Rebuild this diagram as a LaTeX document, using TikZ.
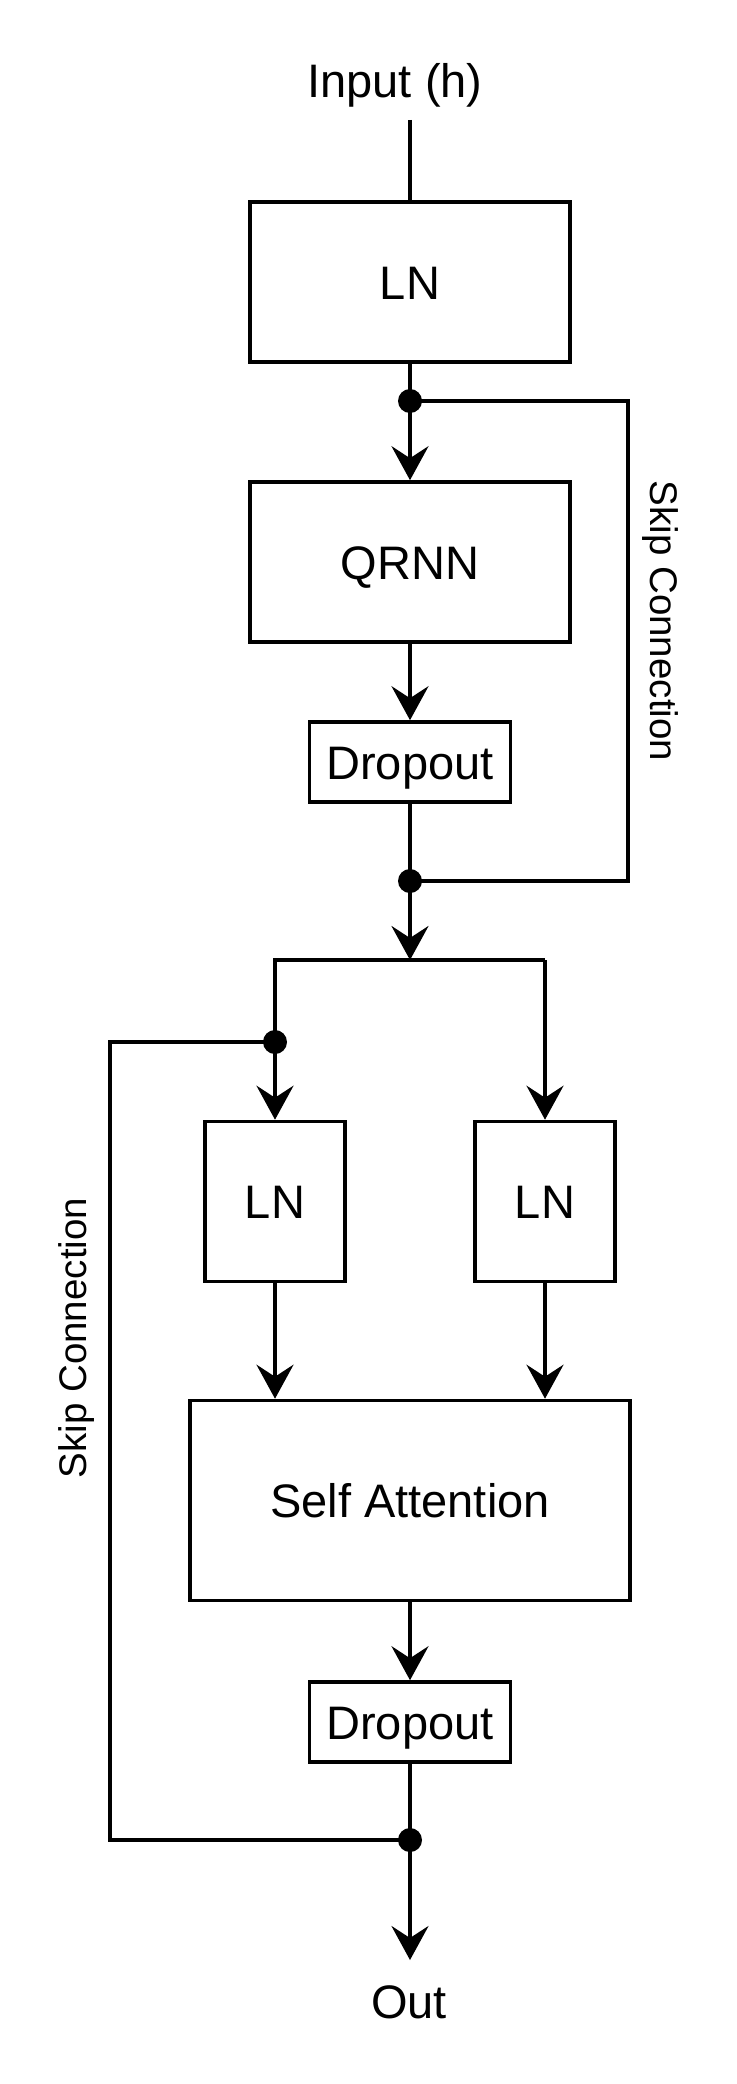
\documentclass[tikz,border=0pt]{standalone}
\usepackage{fontspec}
\setmainfont{Liberation Sans}
\usetikzlibrary{arrows.meta,calc}
\begin{document}
\begin{tikzpicture}[x=1pt,y=-1pt,
  line width=3.6pt,
  box/.style={draw,rectangle,inner sep=0pt,text height=34pt,text depth=0pt,font=\fontsize{47}{56}\selectfont},
  lbl/.style={inner sep=0pt,font=\fontsize{47}{56}\selectfont},
  skiplbl/.style={inner sep=0pt,font=\fontsize{38.5}{46}\selectfont},
  dot/.style={circle,fill=black,draw=none,inner sep=0pt,minimum size=24pt},
  arr/.style={-{Stealth[length=34pt,width=37pt,inset=12pt]}}]
\useasboundingbox (0,0) rectangle (736,2084);
% nodes
\node[lbl] (inp) at (395,85) {Input (h)};
\coordinate (intop) at (410,120);
\node[box,minimum width=320pt,minimum height=160pt] (ln1) at (410,282) {LN};
\node[dot] (d1) at (410,401) {};
\node[box,minimum width=320pt,minimum height=160pt] (qrnn) at (410,562) {QRNN};
\node[box,minimum width=201pt,minimum height=80pt] (drop1) at (410,762) {Dropout};
\node[dot] (d2) at (410,881) {};
\coordinate (split) at (410,960);
\coordinate (sl) at (275,960);
\coordinate (sr) at (545,960);
\node[dot] (d3) at (275,1042) {};
\node[box,minimum width=140pt,minimum height=160pt] (ln2a) at (275,1201.5) {LN};
\node[box,minimum width=140pt,minimum height=160pt] (ln2b) at (545,1201.5) {LN};
\node[box,minimum width=440pt,minimum height=200pt] (sa) at (410,1500.5) {Self Attention};
\node[box,minimum width=201pt,minimum height=80pt] (drop2) at (410,1722) {Dropout};
\node[dot] (d4) at (410,1840) {};
\coordinate (outc) at (410,1960);
\node[lbl] (out) at (409,2002) {Out};
\coordinate (rsk) at (628,401);
\coordinate (lsk) at (110,1042);
\node[skiplbl,rotate=-90] (skr) at (660,621) {Skip Connection};
\node[skiplbl,rotate=90] (skl) at (77,1338) {Skip Connection};
% connectors
\draw (intop) -- (ln1.north);
\draw (ln1.south) -- (d1.center);
\draw[arr] (d1.center) -- (qrnn.north);
\draw (d1.center) -- (rsk) |- (d2.center);
\draw[arr] (qrnn.south) -- (drop1.north);
\draw (drop1.south) -- (d2.center);
\draw[arr] (d2.center) -- (split);
\draw (sr) -- (sl) -- (d3.center);
\draw[arr] (d3.center) -- (ln2a.north);
\draw[arr] (sr) -- (ln2b.north);
\draw (d3.center) -- (lsk) |- (d4.center);
\draw[arr] (ln2a.south) -- (ln2a.south |- sa.north);
\draw[arr] (ln2b.south) -- (ln2b.south |- sa.north);
\draw[arr] (sa.south) -- (drop2.north);
\draw (drop2.south) -- (d4.center);
\draw[arr] (d4.center) -- (outc);
\end{tikzpicture}
\end{document}
